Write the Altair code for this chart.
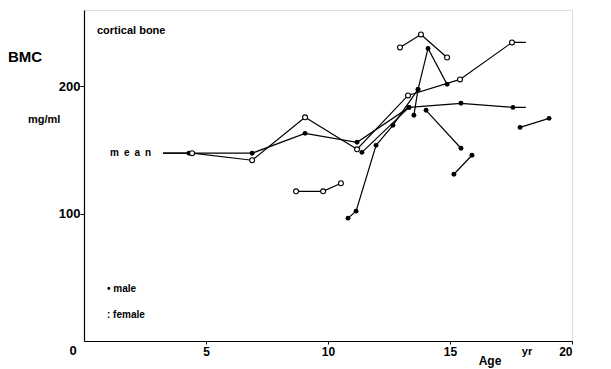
import altair as alt
import pandas as pd

# ---- data (age in years, BMC in mg/ml) ----
male_mean_age = [3.24, 4.30, 6.89, 9.06, 11.19, 13.32, 15.45, 17.58, 18.11]
male_mean_val = [147.5, 147.5, 147.5, 163.1, 156.1, 183.5, 186.7, 183.5, 183.5]
male_mean_mark = [0, 1, 1, 1, 1, 1, 1, 1, 0]

female_mean_age = [3.24, 4.43, 6.89, 9.06, 11.19, 13.28, 15.41, 17.54, 18.11]
female_mean_val = [147.5, 147.5, 142.0, 175.7, 150.6, 192.9, 205.5, 234.5, 234.5]
female_mean_mark = [0, 1, 1, 1, 1, 1, 1, 1, 0]

male_subjects = {
    "m1": ([10.82, 11.15, 11.97, 12.66, 13.69], [96.5, 102.0, 153.7, 169.4, 197.6]),
    "m2": ([13.52, 13.69, 14.10, 14.88], [177.3, 197.6, 229.8, 201.6]),
    "m3": ([11.39, 13.32], [148.2, 183.5]),
    "m4": ([14.02, 15.45], [181.2, 151.4]),
    "m5": ([15.16, 15.90], [131.0, 145.9]),
    "m6": ([17.87, 19.06], [167.8, 174.9]),
}
female_subjects = {
    "f1": ([12.95, 13.81, 14.88], [230.6, 240.8, 222.7]),
    "f2": ([8.69, 9.80, 10.53], [117.6, 117.6, 123.9]),
}

x_ticks = [5, 10, 15, 20]
y_ticks = [100, 200]

# ---- build tables ----
rows = []
def add(series, sex, ages, vals, marks=None):
    for i, (a, v) in enumerate(zip(ages, vals)):
        rows.append({"series": series, "sex": sex, "order": i, "age": a, "bmc": v,
                     "mark": 1 if marks is None else marks[i]})

add("male_mean", "male", male_mean_age, male_mean_val, male_mean_mark)
add("female_mean", "female", female_mean_age, female_mean_val, female_mean_mark)
for k, (a, v) in male_subjects.items():
    add(k, "male", a, v)
for k, (a, v) in female_subjects.items():
    add(k, "female", a, v)
df = pd.DataFrame(rows)

FONT = "Liberation Sans"
W, H = 488, 331

xs = alt.Scale(domain=[0, 20], nice=False, zero=False)
ys = alt.Scale(domain=[0, 260], nice=False, zero=False)
xenc = alt.X("age:Q", scale=xs,
             axis=alt.Axis(values=x_ticks, title=None, grid=False, tickSize=3,
                           labelFontSize=12, labelPadding=2, labelFont=FONT,
                           labelFontWeight="bold", labelColor="black",
                           domainColor="black", tickColor="black", domainWidth=1.2))
yenc = alt.Y("bmc:Q", scale=ys,
             axis=alt.Axis(values=y_ticks, title=None, grid=False, tickSize=4,
                           labelFontSize=13, labelPadding=0, labelFont=FONT,
                           labelFontWeight="bold", labelColor="black",
                           domainColor="black", tickColor="black", domainWidth=1.2))

base = alt.Chart(df)
lines = base.mark_line(color="black", strokeWidth=1.2).encode(
    x=xenc, y=yenc, detail="series:N", order="order:Q")
filled = base.transform_filter("datum.mark == 1 && datum.sex == 'male'").mark_circle(
    color="black", size=24, opacity=1).encode(x="age:Q", y="bmc:Q")
opened = base.transform_filter("datum.mark == 1 && datum.sex == 'female'").mark_point(
    shape="circle", filled=True, fill="white", stroke="black", strokeWidth=1.1,
    size=24, opacity=1).encode(x="age:Q", y="bmc:Q")

one = pd.DataFrame({"k": [0]})
def label(text, x, y, size=11, align="left", weight="bold"):
    return alt.Chart(one).mark_text(align=align, baseline="middle", font=FONT,
                                    fontSize=size, fontWeight=weight, color="black").encode(
        x=alt.value(x), y=alt.value(y), text=alt.value(text))

texts = [
    label("cortical bone", 13, 21, 11),
    label("BMC", -76, 47, 15),
    label("mg/ml", -56, 110, 11),
    label("m\u2002e\u2002a\u2002n", 26, 143, 10),
    label("\u2022 male", 23, 279, 10),
    label(": female", 23, 305, 10),
    label("0", -11, 341, 13, align="center"),
    label("yr", 443, 342, 11, align="center"),
    label("Age", 406, 351, 12, align="center"),
]

chart = alt.layer(lines, filled, opened, *texts).properties(
    width=W, height=H,
    autosize=alt.AutoSizeParams(type="none"),
    padding={"left": 76, "top": 2, "right": 30, "bottom": 28},
).configure_view(stroke=None).configure(background="white")

chart.save("out.html", embed_options={"renderer": "svg", "actions": False})
